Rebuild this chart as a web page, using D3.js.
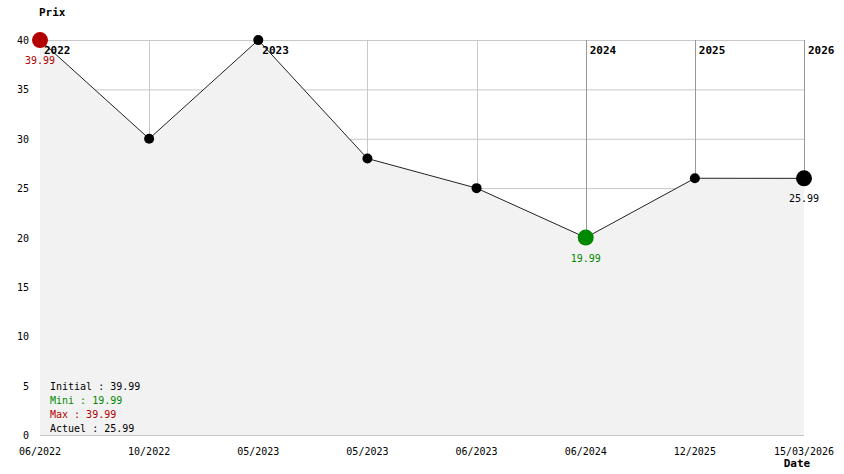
<!DOCTYPE html>
<html><head><meta charset="utf-8">
<script src="https://cdn.jsdelivr.net/npm/d3@7"></script>
<style>body{margin:0;background:#fff}svg text{font-family:"DejaVu Sans Mono",monospace}</style>
</head><body><svg id="c" width="844" height="474"></svg>
<script>
const dates = ["06/2022","10/2022","05/2023","05/2023 ","06/2023","06/2024","12/2025","15/03/2026"];
const prices = [39.99, 30, 39.99, 28, 25, 19.99, 26, 25.99];
const yearLabels = ["2022","","2023","","","2024","2025","2026"];
const yTicks = [0,5,10,15,20,25,30,35,40];
const legendLabels = ["Initial : 39.99","Mini : 19.99","Max : 39.99","Actuel : 25.99"];
const legendColors = ["#000","#008800","#b30000","#000"];

const svg = d3.select("#c");
const L=40,R=804,T=40,B=435;
const x = d3.scalePoint().domain(d3.range(dates.length)).range([L,R]);
const y = d3.scaleLinear().domain([0,40]).range([B,T]);

// grid
svg.append("g").selectAll("line").data(yTicks).join("line")
  .attr("x1",L).attr("x2",R).attr("y1",d=>y(d)+0.5).attr("y2",d=>y(d)+0.5)
  .attr("stroke","#c8c8c8");
svg.append("g").selectAll("line").data(d3.range(dates.length)).join("line")
  .attr("x1",i=>Math.round(x(i))+0.5).attr("x2",i=>Math.round(x(i))+0.5).attr("y1",T).attr("y2",i=>y(prices[i]))
  .attr("stroke",i=>yearLabels[i]?"#999":"#c8c8c8");

// area
const area = d3.area().x((d,i)=>x(i)).y0(B).y1(d=>y(d));
svg.append("path").datum(prices).attr("d",area).attr("fill","#f2f2f2");
const line = d3.line().x((d,i)=>x(i)).y(d=>y(d));
svg.append("path").datum(prices).attr("d",line).attr("fill","none").attr("stroke","#222").attr("stroke-width",1);

// y axis labels
svg.append("g").selectAll("text").data(yTicks).join("text")
  .attr("x",29).attr("y",d=>y(d)+4).attr("text-anchor","end").attr("font-size",10).text(d=>d);
// x labels
svg.append("g").selectAll("text").data(dates).join("text")
  .attr("x",(d,i)=>x(i)).attr("y",455).attr("text-anchor","middle").attr("font-size",10).text(d=>d.trim());
svg.append("text").attr("x",797).attr("y",467).attr("text-anchor","middle").attr("font-size",11).attr("font-weight","bold").text("Date");
svg.append("text").attr("x",39).attr("y",16).attr("font-size",11).attr("font-weight","bold").text("Prix");

// year labels
svg.append("g").selectAll("text").data(yearLabels.map((t,i)=>({t,i})).filter(d=>d.t)).join("text")
  .attr("x",d=>x(d.i)+4).attr("y",54).attr("font-size",11).attr("font-weight","bold").text(d=>d.t);

// points
const iMin = prices.indexOf(d3.min(prices));
const iMax = 0, iLast = prices.length-1;
const colorOf = i => i===iMax?"#b30000":(i===iMin?"#008800":"#000");
const big = i => i===iMax||i===iMin||i===iLast;
svg.append("g").selectAll("circle").data(prices).join("circle")
  .attr("cx",(d,i)=>x(i)).attr("cy",d=>y(d)).attr("r",(d,i)=>big(i)?8:5).attr("fill",(d,i)=>colorOf(i));
svg.append("g").selectAll("text").data([iMax,iMin,iLast]).join("text")
  .attr("x",i=>x(i)).attr("y",i=>y(prices[i])+24).attr("text-anchor","middle").attr("font-size",10)
  .attr("fill",i=>colorOf(i)).text(i=>prices[i].toFixed(2));

// legend
svg.append("g").selectAll("text").data(legendLabels).join("text")
  .attr("x",50).attr("y",(d,i)=>390+i*14).attr("font-size",10).attr("fill",(d,i)=>legendColors[i]).text(d=>d);
</script></body></html>
